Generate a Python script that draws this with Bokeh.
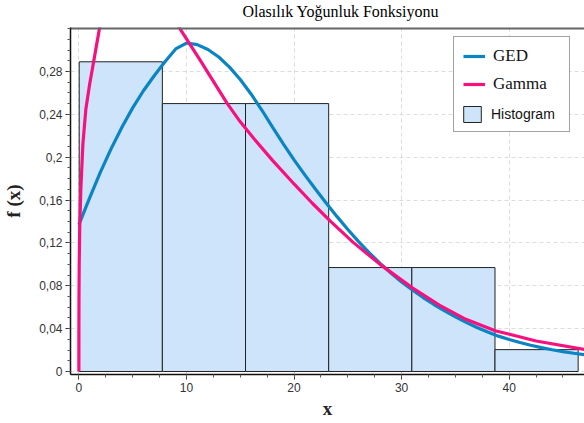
from bokeh.plotting import figure
from bokeh.models import (Range1d, FixedTicker, Legend, LegendItem, Title)
from bokeh.embed import file_html
from bokeh.resources import INLINE

# Histogram bins (edges) and relative frequencies
bin_edges = [0.03, 7.76, 15.49, 23.22, 30.95, 38.68, 46.41]
bin_heights = [0.289, 0.25, 0.25, 0.097, 0.097, 0.0204]

# GED density curve
ged_x = [0, 1, 2, 3, 4, 5, 6, 7, 8, 9, 10, 11, 12, 13, 14, 15, 16, 17, 18, 19,
         20, 21, 22, 23, 24, 25, 26, 27, 28, 29, 30, 31, 32, 33, 34, 35, 36, 37,
         38, 39, 40, 41, 42, 43, 44, 45, 46, 47]
ged_y = [0.137, 0.162, 0.186, 0.208, 0.228, 0.246, 0.262, 0.276, 0.289, 0.301,
         0.3065, 0.305, 0.3005, 0.2935, 0.284, 0.2725, 0.259, 0.244, 0.228,
         0.2125, 0.1975, 0.1835, 0.170, 0.157, 0.1445, 0.1325, 0.1212, 0.1107,
         0.1009, 0.0919, 0.0836, 0.076, 0.069, 0.0625, 0.0565, 0.051, 0.0458,
         0.041, 0.0368, 0.033, 0.0298, 0.027, 0.0245, 0.0223, 0.0203, 0.0185,
         0.017, 0.0157]

# Gamma density curve
gam_x = [0.0, 0.002, 0.01, 0.03, 0.08, 0.18, 0.37, 0.65, 1.0, 1.3, 1.65, 2.0,
         3.0, 4.0, 5.0, 6.0, 7.0, 8.0, 9.2, 10.4, 11.3, 12.3, 13.8, 15.0, 16.3,
         18.0, 20.0, 21.7, 23.3, 25.5, 28.0, 31.0, 33.5, 35.8, 38.7, 42.5, 47.0]
gam_y = [0.0, 0.04, 0.07, 0.10, 0.135, 0.17, 0.212, 0.245, 0.268, 0.285, 0.305,
         0.325, 0.35, 0.362, 0.366, 0.363, 0.355, 0.340, 0.323, 0.304, 0.290,
         0.274, 0.250, 0.233, 0.217, 0.197, 0.175, 0.157, 0.141, 0.1205, 0.100,
         0.078, 0.062, 0.0495, 0.038, 0.0285, 0.0205]

y_ticks = [0, 0.04, 0.08, 0.12, 0.16, 0.2, 0.24, 0.28]
y_tick_labels = ["0", "0,04", "0,08", "0,12", "0,16", "0,2", "0,24", "0,28"]
x_ticks = [0, 10, 20, 30, 40]

X_MIN, X_MAX = -0.78, 47.0
Y_MIN, Y_MAX = -0.0028, 0.321

W, H = 584, 423
LEFT, BOTTOM = 69, 49

p = figure(width=W, height=H, output_backend="svg", toolbar_location=None,
           x_range=Range1d(X_MIN, X_MAX), y_range=Range1d(Y_MIN, Y_MAX),
           min_border_left=LEFT, min_border_right=0, min_border_bottom=BOTTOM,
           min_border_top=0, title="Olasılık Yoğunluk Fonksiyonu")
p.outline_line_color = None
p.background_fill_color = "white"

p.title.align = "left"
p.title.offset = 172
p.title.standoff = 0
p.title.text_font = "Liberation Serif"
p.title.text_font_size = "16px"
p.title.text_font_style = "normal"
p.title.text_color = "#000000"

# small gap between the title and the plotting area
p.add_layout(Title(text=" ", text_font_size="6px", standoff=0), "above")

# grid
for g in (p.xgrid, p.ygrid):
    g.grid_line_color = "#dcdcdc"
    g.grid_line_dash = "4 3"
    g.grid_line_width = 1

# axes
p.xaxis.ticker = FixedTicker(ticks=x_ticks, minor_ticks=[i * 2.5 for i in range(0, 20)])
p.yaxis.ticker = FixedTicker(ticks=y_ticks, minor_ticks=[i * 0.01 for i in range(0, 33)])
p.yaxis.major_label_overrides = {t: s for t, s in zip(y_ticks, y_tick_labels)}
for ax in (p.xaxis, p.yaxis):
    ax.axis_line_color = "#111111"
    ax.axis_line_width = 1.5
    ax.major_tick_line_color = "#333333"
    ax.minor_tick_line_color = "#555555"
    ax.major_tick_out = 5
    ax.major_tick_in = 0
    ax.minor_tick_out = 3
    ax.minor_tick_in = 0
    ax.major_label_text_font = "Liberation Sans"
    ax.major_label_text_font_size = "12px"
    ax.major_label_text_color = "#333333"
    ax.axis_label_text_font = "Liberation Serif"
    ax.axis_label_text_font_size = "19px"
    ax.axis_label_text_font_style = "bold"
    ax.axis_label_text_color = "#222222"
p.xaxis.axis_label = "x"
p.yaxis.axis_label = "f (x)"
p.yaxis.major_label_standoff = 3
p.xaxis.major_label_standoff = 3
p.yaxis.axis_label_standoff = 12
p.xaxis.axis_label_standoff = 3

hist = p.quad(left=bin_edges[:-1], right=bin_edges[1:], bottom=0, top=bin_heights,
              fill_color="#cde4fb", line_color="#222222", line_width=1)
ged = p.line(ged_x, ged_y, line_color="#0a84c2", line_width=3.2)
gam = p.line(gam_x, gam_y, line_color="#f7117f", line_width=3.2)

# top border of the plotting area (half of it falls inside the frame)
p.line([X_MIN, X_MAX], [Y_MAX, Y_MAX], line_color="#666666", line_width=4)

LEG_X, LEG_Y = 383, 242
LEG_PAD, LEG_GLYPH_W, LEG_STANDOFF, ROW_H = 9, 22, 8, 20
common = dict(orientation="vertical", glyph_width=LEG_GLYPH_W, glyph_height=ROW_H,
              label_height=ROW_H, margin=0, label_standoff=LEG_STANDOFF,
              label_text_color="#111111", background_fill_color="white",
              background_fill_alpha=1)
legend = Legend(items=[LegendItem(label="GED", renderers=[ged]),
                       LegendItem(label="Gamma", renderers=[gam]),
                       LegendItem(label=" ", renderers=[hist])],
                location=(LEG_X, LEG_Y), border_line_color="#444444",
                border_line_width=1, label_text_font="Liberation Serif",
                label_text_font_size="17px", label_width=67, spacing=8,
                padding=LEG_PAD, **common)
p.add_layout(legend, "center")

# histogram entry in a sans-serif face, laid over the last row
legend_hist = Legend(items=[LegendItem(label="Histogram", renderers=[hist])],
                     location=(LEG_X + LEG_PAD - 1, LEG_Y + LEG_PAD - 1),
                     border_line_color=None, label_text_font="Liberation Sans",
                     label_text_font_size="14px", label_width=60, padding=1,
                     **common)
p.add_layout(legend_hist, "center")

open("out.html", "w").write(file_html(p, INLINE))
